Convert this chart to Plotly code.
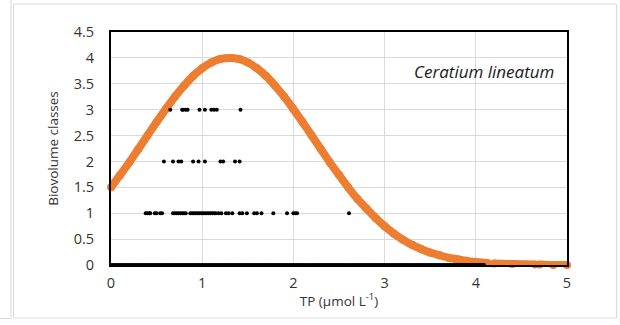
import plotly.graph_objects as go

# ---- data ----
curve_x = [0.0, 0.1, 0.2, 0.3, 0.4, 0.5, 0.6, 0.7, 0.8, 0.9, 1.0, 1.1, 1.2, 1.3, 1.4,
           1.5, 1.6, 1.7, 1.8, 1.9, 2.0, 2.1, 2.2, 2.3, 2.4, 2.5, 2.6, 2.7, 2.8, 2.9,
           3.0, 3.1, 3.2, 3.3, 3.4, 3.5, 3.6, 3.7, 3.8, 3.9, 4.0, 4.13, None,
           4.2, 4.4, 4.65, None, 4.7, 4.85, 5.0]
curve_y = [1.50, 1.74, 1.98, 2.24, 2.50, 2.76, 3.01, 3.25, 3.46, 3.65, 3.80, 3.91, 3.98, 4.00, 3.98,
           3.91, 3.80, 3.65, 3.46, 3.25, 3.01, 2.76, 2.50, 2.24, 1.98, 1.74, 1.50, 1.28, 1.09, 0.91,
           0.75, 0.61, 0.49, 0.39, 0.31, 0.24, 0.19, 0.14, 0.11, 0.08, 0.06, 0.04, None,
           0.03, 0.02, 0.01, None, 0.01, 0.0, 0.0]

obs3_x = [0.65, 0.78, 0.79, 0.82, 0.84, 0.97, 1.03, 1.10, 1.13, 1.16, 1.42]
obs2_x = [0.58, 0.68, 0.74, 0.77, 0.90, 0.96, 1.03, 1.20, 1.23, 1.36, 1.41]
obs1_x = [0.38, 0.40, 0.42, 0.43, 0.48, 0.50, 0.54, 0.56, 0.68, 0.70, 0.72, 0.74, 0.76,
          0.78, 0.80, 0.82, 0.87, 0.89, 0.91, 0.93, 0.95, 0.97, 0.99, 1.01, 1.03, 1.05,
          1.07, 1.09, 1.11, 1.13, 1.15, 1.18, 1.21, 1.26, 1.29, 1.33, 1.41, 1.44, 1.49,
          1.57, 1.60, 1.65, 1.78, 1.93, 2.00, 2.02, 2.04, 2.61]
obs0_x = [0.01, 0.03, 0.05, 0.07, 0.09, 0.11, 0.13, 0.15, 0.17, 0.19, 0.21, 0.23, 0.25,
          0.27, 0.29, 0.31, 0.33, 0.35, 0.37, 0.39, 0.41, 0.43, 0.45, 0.47, 0.49, 0.51,
          0.53, 0.55, 0.57, 0.59, 0.61, 0.63, 0.65, 0.67, 0.69, 0.71, 0.73, 0.75, 0.77,
          0.79, 0.81, 0.83, 0.85, 0.87, 0.89, 0.91, 0.93, 0.95, 0.97, 0.99, 1.01, 1.03,
          1.05, 1.07, 1.09, 1.11, 1.13, 1.15, 1.17, 1.19, 1.21, 1.23, 1.25, 1.27, 1.29,
          1.31, 1.33, 1.35, 1.37, 1.39, 1.41, 1.43, 1.45, 1.47, 1.49, 1.51, 1.53, 1.55,
          1.57, 1.59, 1.61, 1.63, 1.65, 1.67, 1.69, 1.71, 1.73, 1.75, 1.77, 1.79, 1.81,
          1.83, 1.85, 1.87, 1.89, 1.91, 1.93, 1.95, 1.97, 1.99, 2.01, 2.03, 2.05, 2.07,
          2.09, 2.11, 2.13, 2.15, 2.17, 2.19, 2.21, 2.23, 2.25, 2.27, 2.29, 2.31, 2.33,
          2.35, 2.37, 2.39, 2.41, 2.43, 2.45, 2.47, 2.49, 2.51, 2.53, 2.55, 2.57, 2.59,
          2.61, 2.63, 2.65, 2.67, 2.69, 2.71, 2.73, 2.75, 2.77, 2.79, 2.81, 2.83, 2.85,
          2.87, 2.89, 2.91, 2.93, 2.95, 2.97, 2.99, 3.01, 3.03, 3.05, 3.07, 3.09, 3.11,
          3.13, 3.15, 3.17, 3.19, 3.21, 3.23, 3.25, 3.27, 3.29, 3.31, 3.33, 3.35, 3.37,
          3.39, 3.41, 3.43, 3.45, 3.47, 3.49, 3.51, 3.53, 3.55, 3.57, 3.59, 3.61, 3.63,
          3.65, 3.67, 3.69, 3.71, 3.73, 3.75, 3.77, 3.79, 3.81, 3.83, 3.85, 3.87, 3.89,
          3.91, 3.93, 3.95, 3.97, 3.99, 4.01, 4.03, 4.05, 4.07, 4.09]

x_ticks = [0, 1, 2, 3, 4, 5]
y_ticks = [0, 0.5, 1, 1.5, 2, 2.5, 3, 3.5, 4, 4.5]
y_tick_text = ["0", "0.5", "1", "1.5", "2", "2.5", "3", "3.5", "4", "4.5"]

FONT = "Open Sans"
TXT = "#333333"
ORANGE = "#ED7D31"

fig = go.Figure()

fig.add_trace(go.Scatter(x=curve_x, y=curve_y, mode="lines+markers",
                         line=dict(color=ORANGE, width=8, shape="spline", smoothing=0.6),
                         marker=dict(color=ORANGE, size=8),
                         connectgaps=False, hoverinfo="skip", cliponaxis=False))

dots_x = obs0_x + obs1_x + obs2_x + obs3_x
dots_y = [0] * len(obs0_x) + [1] * len(obs1_x) + [2] * len(obs2_x) + [3] * len(obs3_x)
fig.add_trace(go.Scatter(x=dots_x, y=dots_y, mode="markers",
                         marker=dict(color="black", size=4), cliponaxis=False))

# plot area: left=111, right=567, top=32, bottom=265
L, R, T, B = 111, 53, 32, 60
W, H = 620, 325
pw, ph = W - L - R, H - T - B

def px(xp):
    return (xp - L) / pw

def py(yp):
    return (H - B - yp) / ph

grey = "#d9d9d9"
shapes = [
    dict(type="rect", xref="paper", yref="paper", x0=px(13.5), x1=px(616.5),
         y0=py(318), y1=py(4), line=dict(color=grey, width=1), layer="below"),
    dict(type="line", xref="paper", yref="paper", x0=px(11), x1=px(11),
         y0=py(318.5), y1=py(0), line=dict(color=grey, width=1), layer="below"),
    dict(type="line", xref="paper", yref="paper", x0=px(0), x1=px(11),
         y0=py(318.5), y1=py(318.5), line=dict(color=grey, width=1), layer="below"),
]

fig.update_layout(
    width=W, height=H,
    margin=dict(l=L, r=R, t=T, b=B, autoexpand=False),
    paper_bgcolor="white", plot_bgcolor="white",
    showlegend=False,
    font=dict(family=FONT, size=13, color=TXT),
    shapes=shapes,
    annotations=[dict(text="<i>Ceratium lineatum</i>", xref="paper", yref="paper",
                      x=px(556), y=py(71), xanchor="right", yanchor="middle",
                      showarrow=False, font=dict(family=FONT, size=17, color="#1a1a1a"))],
)

fig.update_xaxes(range=[0, 5], tickvals=x_ticks, ticks="", showgrid=True,
                 gridcolor=grey, gridwidth=1, zeroline=False,
                 showline=True, linecolor="black", linewidth=2, mirror=True,
                 ticklabelstandoff=4, tickfont=dict(size=14.5),
                 title=dict(text="TP (µmol L<sup>-1</sup>)", standoff=5,
                            font=dict(size=13.5, color=TXT)))
fig.update_yaxes(range=[0, 4.5], tickvals=y_ticks, ticktext=y_tick_text, ticks="",
                 showgrid=True, gridcolor=grey, gridwidth=1, zeroline=False,
                 showline=True, linecolor="black", linewidth=2, mirror=True,
                 ticklabelstandoff=12, tickfont=dict(size=14.5),
                 title=dict(text="Biovolume classes", standoff=12,
                            font=dict(size=13.5, color=TXT)))

fig.write_html("out.html")
